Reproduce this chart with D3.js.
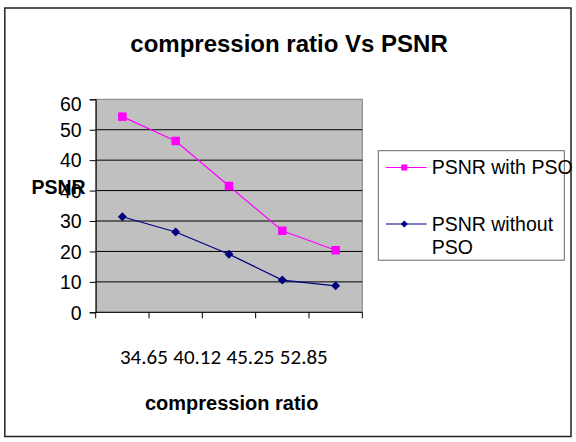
<!DOCTYPE html>
<html>
<head>
<meta charset="utf-8">
<script src="https://cdn.jsdelivr.net/npm/d3@7"></script>
<style>
  html, body { margin: 0; padding: 0; background: #fff; }
  #chart { width: 576px; height: 442px; }
</style>
</head>
<body>
<div id="chart"></div>
<script>
// values (in the plot's own 0..70 units)
const categories = ["34.65", "40.12", "45.25", "52.85", ""];
const psnrWithPso = [64.3, 56.3, 41.5, 26.8, 20.4];
const psnrWithoutPso = [31.4, 26.4, 19.1, 10.6, 8.7];
const yTickValues = [0, 10, 20, 30, 40, 50, 60, 70];
const yTickLabels = ["0", "10", "20", "30", "40", "40", "50", "60"];
const seriesNames = ["PSNR with PSO", "PSNR without PSO"];

const width = 576, height = 442;
const margin = { top: 99.3, right: 213.7, bottom: 129.7, left: 95.7 };
const arial = "'Liberation Sans', Arial, sans-serif";
const calibri = "Carlito, Lato, 'Open Sans', sans-serif";

const svg = d3.select("#chart").append("svg")
  .attr("width", width)
  .attr("height", height);

// outer frame
svg.append("rect")
  .attr("x", 4.8).attr("y", 8)
  .attr("width", 566.2).attr("height", 428.5)
  .attr("fill", "#fff")
  .attr("stroke", "#222")
  .attr("stroke-width", 1.5);

const x = d3.scaleBand()
  .domain(d3.range(categories.length))
  .range([margin.left, width - margin.right]);

const y = d3.scaleLinear()
  .domain([0, 70])
  .range([height - margin.bottom, margin.top]);

// plot area
svg.append("rect")
  .attr("x", margin.left).attr("y", margin.top)
  .attr("width", x.range()[1] - margin.left)
  .attr("height", y(0) - margin.top)
  .attr("fill", "#c0c0c0")
  .attr("stroke", "#808080");

// gridlines
svg.append("g")
  .selectAll("line")
  .data(yTickValues.slice(1, -1))
  .join("line")
  .attr("x1", margin.left).attr("x2", x.range()[1])
  .attr("y1", d => y(d)).attr("y2", d => y(d))
  .attr("stroke", "#000")
  .attr("stroke-width", 1);

// y axis
const yAxis = svg.append("g")
  .attr("transform", `translate(${margin.left},0)`)
  .call(d3.axisLeft(y)
    .tickValues(yTickValues)
    .tickSize(6)
    .tickPadding(8)
    .tickFormat((d, i) => yTickLabels[i]));
yAxis.select(".domain").attr("stroke", "#000");
yAxis.selectAll(".tick line").attr("stroke", "#000");
yAxis.selectAll("text")
  .attr("font-family", arial)
  .attr("font-size", 19.5)
  .attr("fill", "#000")
  .attr("dy", (d, i) => i === yTickValues.length - 1 ? "0.55em" : "0.35em");

// x axis (ticks on category boundaries)
const xBounds = categories.map((c, i) => x(i)).concat([x.range()[1]]);
svg.append("line")
  .attr("x1", margin.left).attr("x2", x.range()[1])
  .attr("y1", y(0)).attr("y2", y(0))
  .attr("stroke", "#000");
svg.append("g")
  .selectAll("line")
  .data(xBounds)
  .join("line")
  .attr("x1", d => d).attr("x2", d => d)
  .attr("y1", y(0)).attr("y2", y(0) + 6)
  .attr("stroke", "#000");

svg.append("g")
  .selectAll("text")
  .data(categories)
  .join("text")
  .attr("x", (d, i) => x(i) + x.bandwidth() / 2 + 21.5)
  .attr("y", 363.5)
  .attr("text-anchor", "middle")
  .attr("font-family", calibri)
  .attr("font-size", 21)
  .attr("fill", "#000")
  .text(d => d);

// series
const cx = i => x(i) + x.bandwidth() / 2;
const line = d3.line().x((d, i) => cx(i)).y(d => y(d));

const series = [
  { name: seriesNames[0], values: psnrWithPso, color: "#ff00ff", rotate: 0, size: 72 },
  { name: seriesNames[1], values: psnrWithoutPso, color: "#000080", rotate: 45, size: 40 }
];

series.forEach(s => {
  svg.append("path")
    .datum(s.values)
    .attr("d", line)
    .attr("fill", "none")
    .attr("stroke", s.color)
    .attr("stroke-width", 1.2);
  svg.append("g")
    .selectAll("path")
    .data(s.values)
    .join("path")
    .attr("d", d3.symbol(d3.symbolSquare, s.size))
    .attr("transform", (d, i) => `translate(${cx(i)},${y(d)}) rotate(${s.rotate})`)
    .attr("fill", s.color);
});

// titles
svg.append("text")
  .attr("x", 289).attr("y", 52)
  .attr("text-anchor", "middle")
  .attr("font-family", arial)
  .attr("font-weight", "bold")
  .attr("font-size", 24)
  .text("compression ratio Vs PSNR");

svg.append("text")
  .attr("x", 231.7).attr("y", 410)
  .attr("text-anchor", "middle")
  .attr("font-family", arial)
  .attr("font-weight", "bold")
  .attr("font-size", 20)
  .text("compression ratio");

svg.append("text")
  .attr("x", 31.5).attr("y", 194)
  .attr("font-family", arial)
  .attr("font-weight", "bold")
  .attr("font-size", 19.5)
  .text("PSNR");

// legend
const legend = svg.append("g");
legend.append("rect")
  .attr("x", 378.3).attr("y", 150.7)
  .attr("width", 186).attr("height", 109.5)
  .attr("fill", "#fff")
  .attr("stroke", "#666");

const legendRows = [
  { y: 167.5, lines: ["PSNR with PSO"], size: 36 },
  { y: 224, lines: ["PSNR without", "PSO"], size: 26 }
];
legendRows.forEach((r, i) => {
  const s = series[i];
  legend.append("line")
    .attr("x1", 386).attr("x2", 426.7)
    .attr("y1", r.y).attr("y2", r.y)
    .attr("stroke", s.color)
    .attr("stroke-width", 1.2);
  legend.append("path")
    .attr("d", d3.symbol(d3.symbolSquare, r.size))
    .attr("transform", `translate(404.3,${r.y}) rotate(${s.rotate})`)
    .attr("fill", s.color);
  const t = legend.append("text")
    .attr("font-family", arial)
    .attr("font-size", 19.5)
    .attr("fill", "#000");
  r.lines.forEach((ln, j) => {
    t.append("tspan")
      .attr("x", 431.7)
      .attr("y", r.y + 6.8 + j * 23.3)
      .text(ln);
  });
});
</script>
</body>
</html>
